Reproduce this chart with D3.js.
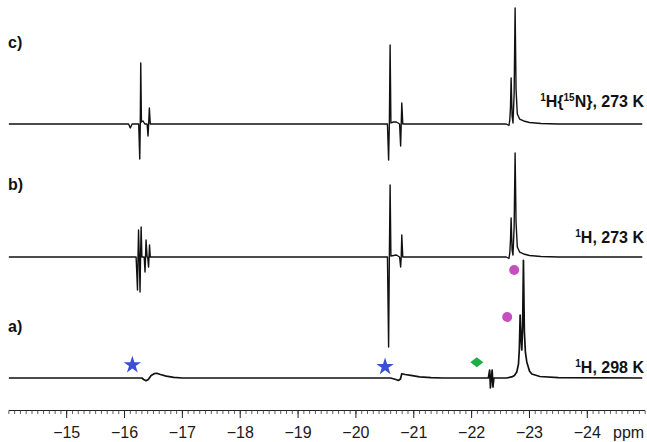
<!DOCTYPE html>
<html>
<head>
<meta charset="utf-8">
<script src="https://cdn.jsdelivr.net/npm/d3@7"></script>
<style>
  html, body { margin: 0; padding: 0; background: #fff; }
  svg { display: block; }
  text { font-family: "Liberation Sans", Arial, Helvetica, sans-serif; }
</style>
</head>
<body>
<svg id="chart" width="647" height="442"></svg>
<script>
// ---------------- DATA ----------------
// [ppm, intensity (a.u., c) main peak = 100)]
const spectrumC = [
  [-14.00, 0], [-16.07, 0], [-16.10, -3.4], [-16.13, 0],
  [-16.245, 0], [-16.263, -30.2], [-16.272, 0], [-16.280, 52.6], [-16.292, 1.7], [-16.32, 2.6], [-16.35, 0],
  [-16.39, 0], [-16.406, -10.3], [-16.417, 0], [-16.429, 13.8], [-16.445, 0],
  [-20.545, 0], [-20.565, -31.0], [-20.578, 0], [-20.591, 68.1], [-20.605, 0.9], [-20.65, 1.7], [-20.70, 1.7],
  [-20.755, 0], [-20.773, -19.0], [-20.783, 0], [-20.793, 18.1], [-20.81, 0],
  [-22.60, 0], [-22.645, -1.3], [-22.66, 3.4], [-22.672, 14.7], [-22.683, 39.7], [-22.70, 6.9], [-22.715, 0.9],
  [-22.735, 25.9], [-22.752, 100], [-22.768, 30.2], [-22.79, 8.6], [-22.83, 4.3], [-22.9, 2.6], [-23.0, 1.3],
  [-23.2, 0.4], [-23.5, 0], [-24.95, 0]
];
const spectrumB = [
  [-14.00, 0], [-16.20, 0], [-16.224, -28.4], [-16.233, 0], [-16.242, 23.3], [-16.255, 0],
  [-16.268, -30.2], [-16.277, 0], [-16.287, 25.9], [-16.30, 0],
  [-16.34, 0], [-16.354, -12.9], [-16.363, 0], [-16.372, 14.7], [-16.39, 0],
  [-16.40, 0], [-16.415, -8.6], [-16.423, 0], [-16.432, 10.3], [-16.445, 0],
  [-20.545, 0], [-20.565, -77.6], [-20.578, 0], [-20.591, 62.1], [-20.605, 0.9], [-20.70, 1.7],
  [-20.755, 0], [-20.773, -8.6], [-20.783, 0], [-20.793, 19.0], [-20.81, 0],
  [-22.60, 0], [-22.645, -1.3], [-22.66, 3.4], [-22.672, 14.7], [-22.683, 33.6], [-22.70, 6.0], [-22.715, 1.7],
  [-22.735, 25.9], [-22.752, 89.7], [-22.768, 30.2], [-22.79, 8.6], [-22.83, 4.3], [-22.9, 2.6], [-23.0, 1.3],
  [-23.2, 0.4], [-23.5, 0], [-24.95, 0]
];
const spectrumA = [
  [-14.00, 0], [-16.30, 0], [-16.33, -1.3], [-16.372, -2.3], [-16.41, -1.3], [-16.46, 2.2], [-16.52, 3.9],
  [-16.557, 4.1], [-16.62, 3.0], [-16.72, 1.6], [-16.85, 0.5], [-17.0, 0],
  [-20.60, 0], [-20.69, -1.3], [-20.734, -2.1], [-20.77, -0.9], [-20.793, 3.7], [-20.85, 3.0], [-20.95, 2.2],
  [-21.1, 1.0], [-21.3, 0.3], [-21.5, 0],
  [-22.29, 0], [-22.312, 6.9], [-22.318, 0], [-22.325, -8.6], [-22.34, 0],
  [-22.355, 6.9], [-22.362, 0], [-22.369, -7.8], [-22.385, 0],
  [-22.60, 0], [-22.694, 0.9], [-22.74, 2.2], [-22.781, 5.2], [-22.81, 12], [-22.825, 25], [-22.839, 54.3],
  [-22.853, 35], [-22.868, 24.1], [-22.882, 45], [-22.896, 101.5], [-22.912, 40], [-22.93, 22], [-22.954, 13.8],
  [-23.0, 6.0], [-23.04, 3.4], [-23.18, 1.3], [-23.5, 0.4], [-24.95, 0]
];
const spectrumNames = ["c)", "b)", "a)"];
const spectrumTitles = [
  [["sup", "1"], ["", "H{"], ["sup", "15"], ["", "N}, 273 K"]],
  [["sup", "1"], ["", "H, 273 K"]],
  [["sup", "1"], ["", "H, 298 K"]]
];
// markers on spectrum a): [ppm, intensity]
const starMarks = [[-16.135, 11.2], [-20.504, 9.7]];
const diamondMarks = [[-22.09, 13.5]];
const dotMarks = [[-22.736, 93.1], [-22.615, 52.6]];
const tickLabels = [-15, -16, -17, -18, -19, -20, -21, -22, -23, -24];
const axisUnit = "ppm";

// ---------------- LAYOUT ----------------
const svg = d3.select("#chart");
const x = d3.scaleLinear().domain([-14, -25]).range([8.85, 645.15]);
const yInt = d3.scaleLinear().domain([0, 100]).range([0, -116]);
const baselines = [124, 257, 378];
const labelY = [48, 190, 332];
const titleY = [107, 243, 373];
const spectra = [spectrumC, spectrumB, spectrumA];

spectra.forEach((data, i) => {
  const line = d3.line()
    .x(d => x(d[0]))
    .y(d => baselines[i] + yInt(d[1]));
  svg.append("path")
    .datum(data)
    .attr("d", line)
    .attr("fill", "none")
    .attr("stroke", "#111")
    .attr("stroke-width", i === 2 ? 1.7 : 1.4)
    .attr("stroke-linejoin", "round");

  svg.append("text")
    .attr("x", 8).attr("y", labelY[i])
    .attr("font-size", 16).attr("font-weight", "bold")
    .attr("fill", "#111")
    .text(spectrumNames[i]);

  const t = svg.append("text")
    .attr("x", 644).attr("y", titleY[i])
    .attr("text-anchor", "end")
    .attr("font-size", 16).attr("font-weight", "bold")
    .attr("fill", "#111");
  let raised = false;
  spectrumTitles[i].forEach(([kind, s]) => {
    const ts = t.append("tspan").text(s);
    if (kind === "sup") {
      ts.attr("font-size", 10).attr("dy", raised ? 0 : -6);
      raised = true;
    } else {
      ts.attr("dy", raised ? 6 : 0);
      raised = false;
    }
  });
});

// markers (relative to spectrum a)
const aBase = baselines[2];
const star = d3.symbol().type(d3.symbolStar).size(95);
svg.selectAll(".star").data(starMarks).join("path")
  .attr("d", star)
  .attr("transform", d => `translate(${x(d[0])},${aBase + yInt(d[1])})`)
  .attr("fill", "#3a4ed6");
svg.selectAll(".diamond").data(diamondMarks).join("path")
  .attr("d", "M-6.5,0L0,-5L6.5,0L0,5Z")
  .attr("transform", d => `translate(${x(d[0])},${aBase + yInt(d[1])})`)
  .attr("fill", "#1fae44");
svg.selectAll(".dot").data(dotMarks).join("circle")
  .attr("cx", d => x(d[0]))
  .attr("cy", d => aBase + yInt(d[1]))
  .attr("r", 5)
  .attr("fill", "#c64fbf");

// axis
const axisY = 410.5;
const gAxis = svg.append("g").attr("transform", `translate(0,${axisY})`);
gAxis.append("line")
  .attr("x1", x(-14)).attr("x2", x(-25))
  .attr("stroke", "#222").attr("stroke-width", 1);
const minor = d3.range(-140, -251, -1).map(v => v / 10);
gAxis.selectAll(".minor").data(minor).join("line")
  .attr("x1", d => x(d)).attr("x2", d => x(d))
  .attr("y1", 0).attr("y2", 3.5)
  .attr("stroke", "#333").attr("stroke-width", 0.8);
gAxis.selectAll(".major").data(tickLabels).join("line")
  .attr("x1", d => x(d)).attr("x2", d => x(d))
  .attr("y1", 0).attr("y2", 7.5)
  .attr("stroke", "#222").attr("stroke-width", 1);
const fmt = d3.format("d");
gAxis.selectAll(".tl").data(tickLabels).join("text")
  .attr("x", d => x(d))
  .attr("y", 27)
  .attr("text-anchor", "middle")
  .attr("font-size", 16)
  .attr("fill", "#1a1a1a")
  .text(d => fmt(d));
gAxis.append("text")
  .attr("x", 613).attr("y", 27)
  .attr("font-size", 16)
  .attr("fill", "#1a1a1a")
  .text(axisUnit);
</script>
</body>
</html>
